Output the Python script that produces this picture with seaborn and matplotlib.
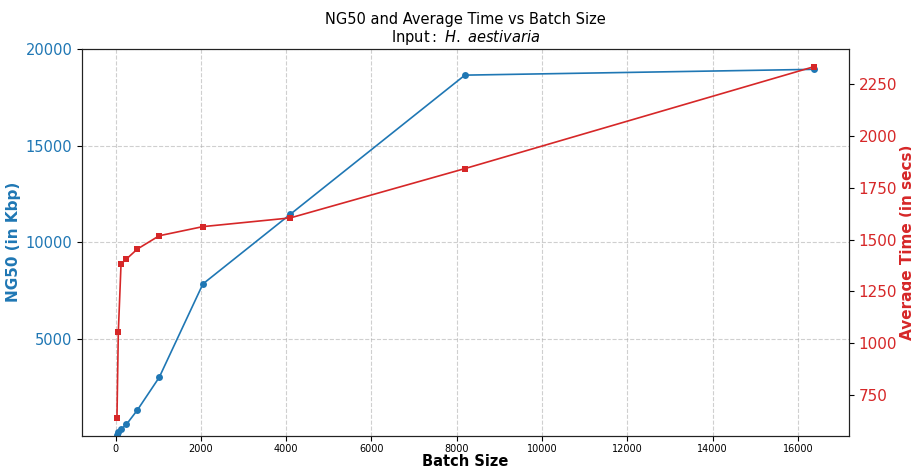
import matplotlib
matplotlib.use('Agg')
import matplotlib.pyplot as plt
import pandas as pd
import seaborn as sns

# Batch sizes and measured values
batch_sizes = [32, 64, 128, 256, 512, 1024, 2048, 4096, 8192, 16384]
ng50_kbp = [40, 170, 330, 590, 1330, 3020, 7850, 11450, 18650, 18950]
avg_time_secs = [639, 1053, 1383, 1407, 1455, 1519, 1563, 1605, 1843, 2335]

df = pd.DataFrame({'Batch': batch_sizes, 'NG50': ng50_kbp, 'Time': avg_time_secs})

blue = '#1f77b4'
red = '#d62728'

sns.set_style('ticks')
plt.rcParams['font.family'] = ['DejaVu Sans']
plt.rcParams['text.color'] = 'black'
plt.rcParams['axes.labelcolor'] = 'black'
plt.rcParams['xtick.color'] = 'black'
plt.rcParams['ytick.color'] = 'black'

fig, ax1 = plt.subplots(figsize=(9.12, 4.67), dpi=100)
fig.subplots_adjust(left=0.09, right=0.931, top=0.895, bottom=0.067)

# NG50 on the left axis
sns.lineplot(data=df, x='Batch', y='NG50', ax=ax1, color=blue, marker='o',
             markersize=5, markeredgecolor=blue, markeredgewidth=0, linewidth=1.2)
ax1.set_ylim(0, 20000)
ax1.set_yticks([5000, 10000, 15000, 20000])
ax1.set_xlabel('Batch Size', fontsize=10.5, fontweight='bold', labelpad=0)
ax1.set_ylabel('NG50 (in Kbp)', fontsize=11, fontweight='bold', color=blue, labelpad=3)
ax1.tick_params(axis='y', labelcolor=blue, labelsize=10.5, length=3.5)
ax1.tick_params(axis='x', labelsize=7, length=3.5, pad=2.5)
ax1.grid(True, linestyle='--', color='#b0b0b0', alpha=0.6)

# Average time on the right axis
ax2 = ax1.twinx()
sns.lineplot(data=df, x='Batch', y='Time', ax=ax2, color=red, marker='s',
             markersize=5, markeredgecolor=red, markeredgewidth=0, linewidth=1.2)
ax2.set_ylabel('Average Time (in secs)', fontsize=11, fontweight='bold', color=red, labelpad=2)
ax2.tick_params(axis='y', labelcolor=red, labelsize=11, length=3.5)

for sp in ax1.spines.values():
    sp.set_color('#222222')
for sp in ax2.spines.values():
    sp.set_color('#222222')

ax1.set_title('NG50 and Average Time vs Batch Size\nInput$:$ $\\it{H.\\ aestivaria}$',
              fontsize=10.5, linespacing=1.05, pad=5)

plt.savefig('out.png', dpi=100)
plt.close()
